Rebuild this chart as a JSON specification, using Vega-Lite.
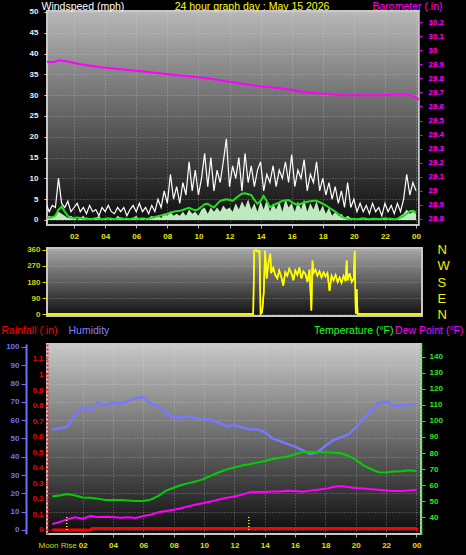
{
"$schema": "https://vega.github.io/schema/vega-lite/v6.json",
"background": "#000000",
"padding": {"left": 0, "top": 0, "right": 4, "bottom": 9},
"spacing": 1,
"datasets": {
"wind": [
{"h":0,"g":3,"w":1,"a":0.5},{"h":0.2,"g":4,"w":0.5,"a":0.7},{"h":0.4,"g":2,"w":1,"a":0.5},{"h":0.6,"g":3.5,"w":0.5,"a":0.7},{"h":0.8,"g":3,"w":1,"a":1},
{"h":1,"g":10,"w":2,"a":2.5},{"h":1.2,"g":4,"w":1.5,"a":3.2},{"h":1.4,"g":3,"w":1,"a":2},{"h":1.6,"g":4.5,"w":0.5,"a":1},{"h":1.8,"g":2,"w":1,"a":0.5},
{"h":2,"g":3,"w":0.5,"a":0.4},{"h":2.2,"g":4,"w":0,"a":0.6},{"h":2.4,"g":2,"w":0.5,"a":0.5},{"h":2.6,"g":3,"w":1,"a":0.3},{"h":2.8,"g":1.5,"w":0,"a":0.4},
{"h":3,"g":3.5,"w":0.5,"a":0.2},{"h":3.2,"g":2,"w":0,"a":0.3},{"h":3.4,"g":2.5,"w":0.5,"a":0.4},{"h":3.6,"g":1,"w":1,"a":0.3},{"h":3.8,"g":3,"w":0,"a":0.2},
{"h":4,"g":2,"w":0.5,"a":0.3},{"h":4.2,"g":3.5,"w":0,"a":0.4},{"h":4.4,"g":2,"w":0.5,"a":0.3},{"h":4.6,"g":1.5,"w":0,"a":0.2},{"h":4.8,"g":3,"w":1,"a":0.3},
{"h":5,"g":2,"w":0.5,"a":0.4},{"h":5.2,"g":3,"w":0,"a":0.3},{"h":5.4,"g":1,"w":0.5,"a":0.3},{"h":5.6,"g":2.5,"w":0,"a":0.2},{"h":5.8,"g":3.5,"w":0.5,"a":0.4},
{"h":6,"g":2,"w":1,"a":0.3},{"h":6.2,"g":4,"w":0,"a":0.3},{"h":6.4,"g":2,"w":0.5,"a":0.4},{"h":6.6,"g":3,"w":0,"a":0.3},{"h":6.8,"g":1.5,"w":0.5,"a":0.3},
{"h":7,"g":3.5,"w":1,"a":0.5},{"h":7.2,"g":2,"w":0.5,"a":0.7},{"h":7.4,"g":5,"w":1,"a":0.9},{"h":7.6,"g":3,"w":0.5,"a":1.1},{"h":7.8,"g":7,"w":1.5,"a":1.3},
{"h":8,"g":4,"w":1,"a":1.5},{"h":8.2,"g":11,"w":2,"a":1.8},{"h":8.4,"g":5,"w":1,"a":2},{"h":8.6,"g":8,"w":1.5,"a":2.1},{"h":8.8,"g":4,"w":1,"a":2.2},
{"h":9,"g":9,"w":2,"a":2.4},{"h":9.2,"g":6,"w":1,"a":2.7},{"h":9.4,"g":14,"w":2.5,"a":2.9},{"h":9.6,"g":7,"w":1.5,"a":2.6},{"h":9.8,"g":12,"w":2,"a":2.3},
{"h":10,"g":6,"w":1,"a":2.6},{"h":10.2,"g":10,"w":2.5,"a":3.2},{"h":10.4,"g":16,"w":3,"a":3.8},{"h":10.6,"g":8,"w":1.5,"a":3.9},{"h":10.8,"g":15,"w":3,"a":3.4},
{"h":11,"g":7,"w":2,"a":3},{"h":11.2,"g":12,"w":3,"a":3.8},{"h":11.4,"g":9,"w":2,"a":4.6},{"h":11.6,"g":14,"w":3.5,"a":4.8},{"h":11.8,"g":19.5,"w":2.5,"a":5},
{"h":12,"g":8,"w":3,"a":4.8},{"h":12.2,"g":13,"w":2,"a":4.6},{"h":12.4,"g":10,"w":4,"a":5.2},{"h":12.6,"g":15,"w":2.5,"a":5.8},{"h":12.8,"g":7,"w":4.5,"a":6.3},
{"h":13,"g":16,"w":3,"a":6.4},{"h":13.2,"g":9,"w":5,"a":6.2},{"h":13.4,"g":13,"w":2.5,"a":6},{"h":13.6,"g":8,"w":4,"a":4.8},{"h":13.8,"g":12,"w":2,"a":3.9},
{"h":14,"g":14,"w":4.5,"a":4.6},{"h":14.2,"g":7,"w":2.5,"a":5.8},{"h":14.4,"g":11,"w":5,"a":4.5},{"h":14.6,"g":9,"w":2,"a":3.1},{"h":14.8,"g":13,"w":4,"a":3.5},
{"h":15,"g":8,"w":2.5,"a":3.9},{"h":15.2,"g":12,"w":4.5,"a":4.2},{"h":15.4,"g":10,"w":2,"a":4.6},{"h":15.6,"g":14,"w":5,"a":4.7},{"h":15.8,"g":9,"w":3,"a":4.8},
{"h":16,"g":15.7,"w":4,"a":4.3},{"h":16.2,"g":8,"w":2,"a":3.9},{"h":16.4,"g":12,"w":4.5,"a":3.6},{"h":16.6,"g":10,"w":2.5,"a":3.9},{"h":16.8,"g":14.5,"w":5,"a":4.2},
{"h":17,"g":7,"w":2,"a":4.4},{"h":17.2,"g":11,"w":4,"a":4.5},{"h":17.4,"g":9,"w":2.5,"a":4.6},{"h":17.6,"g":14,"w":4.5,"a":4.6},{"h":17.8,"g":7,"w":2,"a":4.3},
{"h":18,"g":10,"w":3.5,"a":3.9},{"h":18.2,"g":6,"w":1.5,"a":3.5},{"h":18.4,"g":9,"w":3,"a":3},{"h":18.6,"g":5,"w":1,"a":2.5},{"h":18.8,"g":8,"w":2,"a":2},
{"h":19,"g":4,"w":1,"a":1.4},{"h":19.2,"g":7,"w":1.5,"a":0.8},{"h":19.4,"g":3,"w":0.5,"a":0.5},{"h":19.6,"g":9,"w":1,"a":0.3},{"h":19.8,"g":3,"w":0.5,"a":0.2},
{"h":20,"g":5,"w":0.5,"a":0.3},{"h":20.2,"g":2,"w":0,"a":0.2},{"h":20.4,"g":4,"w":0.5,"a":0.3},{"h":20.6,"g":2,"w":0,"a":0.4},{"h":20.8,"g":3.5,"w":0.5,"a":0.3},
{"h":21,"g":1.5,"w":0,"a":0.2},{"h":21.2,"g":4,"w":0.5,"a":0.3},{"h":21.4,"g":2,"w":0,"a":0.3},{"h":21.6,"g":3,"w":0.5,"a":0.2},{"h":21.8,"g":1,"w":0,"a":0.3},
{"h":22,"g":4,"w":0.5,"a":0.4},{"h":22.2,"g":2,"w":0,"a":0.3},{"h":22.4,"g":3.5,"w":0.5,"a":0.3},{"h":22.6,"g":1.5,"w":0,"a":0.2},{"h":22.8,"g":4,"w":0.5,"a":0.3},
{"h":23,"g":2,"w":1,"a":0.6},{"h":23.2,"g":5,"w":1.5,"a":1},{"h":23.4,"g":11,"w":2.5,"a":1.5},{"h":23.6,"g":6,"w":1.5,"a":2.1},{"h":23.8,"g":9,"w":2,"a":2.2},
{"h":24,"g":7,"w":1.5,"a":1.8}
],
"baro": [
{"h":0,"p":29.921},{"h":0.6,"p":29.914},{"h":1.1,"p":29.929},{"h":1.5,"p":29.921},{"h":2.4,"p":29.9},{"h":3.7,"p":29.879},{"h":5,"p":29.864},{"h":6.3,"p":29.85},{"h":7.5,"p":29.836},{"h":8.8,"p":29.821},{"h":10.1,"p":29.807},{"h":11.4,"p":29.786},{"h":12.7,"p":29.764},{"h":14,"p":29.743},{"h":15.3,"p":29.729},{"h":16.6,"p":29.707},{"h":17.9,"p":29.693},{"h":19.2,"p":29.679},{"h":20.5,"p":29.679},{"h":21.7,"p":29.679},{"h":23,"p":29.686},{"h":23.7,"p":29.679},{"h":24.2,"p":29.65}
],
"dir": [
{"h":0,"d":0},{"h":13.2,"d":0},{"h":13.26,"d":355},{"h":13.38,"d":360},{"h":13.51,"d":350},{"h":13.6,"d":355},{"h":13.67,"d":0},{"h":13.77,"d":10},{"h":13.87,"d":120},{"h":13.96,"d":355},{"h":14.06,"d":200},{"h":14.16,"d":280},{"h":14.29,"d":340},{"h":14.35,"d":230},{"h":14.48,"d":260},{"h":14.61,"d":220},{"h":14.74,"d":200},{"h":14.86,"d":245},{"h":14.99,"d":210},{"h":15.12,"d":160},{"h":15.25,"d":235},{"h":15.38,"d":215},{"h":15.51,"d":255},{"h":15.64,"d":230},{"h":15.77,"d":190},{"h":15.89,"d":245},{"h":16.02,"d":220},{"h":16.15,"d":260},{"h":16.28,"d":200},{"h":16.41,"d":240},{"h":16.54,"d":225},{"h":16.67,"d":180},{"h":16.8,"d":250},{"h":16.92,"d":20},{"h":16.99,"d":300},{"h":17.05,"d":230},{"h":17.18,"d":250},{"h":17.31,"d":215},{"h":17.44,"d":240},{"h":17.57,"d":205},{"h":17.7,"d":235},{"h":17.82,"d":210},{"h":17.95,"d":230},{"h":18.08,"d":130},{"h":18.21,"d":215},{"h":18.34,"d":190},{"h":18.47,"d":220},{"h":18.6,"d":180},{"h":18.73,"d":205},{"h":18.85,"d":175},{"h":18.98,"d":215},{"h":19.11,"d":185},{"h":19.18,"d":300},{"h":19.24,"d":190},{"h":19.37,"d":230},{"h":19.5,"d":180},{"h":19.63,"d":200},{"h":19.69,"d":355},{"h":19.76,"d":0},{"h":19.82,"d":140},{"h":19.88,"d":0},{"h":24,"d":0}
],
"th": [
{"h":0,"t":53,"hu":55,"dp":35.6},{"h":0.5,"t":53.5,"hu":55.5,"dp":37},{"h":1,"t":54.4,"hu":56.5,"dp":38.7},{"h":1.5,"t":53.5,"hu":63,"dp":39.8},{"h":2,"t":52.2,"hu":67,"dp":38.9},{"h":2.5,"t":52,"hu":65,"dp":40.6},{"h":3,"t":51.5,"hu":69.5,"dp":40},{"h":3.5,"t":50.6,"hu":68,"dp":40.2},{"h":4,"t":50.6,"hu":69.5,"dp":40},{"h":4.5,"t":50.6,"hu":69,"dp":39.6},{"h":5,"t":50.3,"hu":70.5,"dp":39.8},{"h":5.5,"t":50,"hu":72,"dp":39.4},{"h":6,"t":50,"hu":72.5,"dp":40.6},{"h":6.5,"t":51,"hu":69,"dp":41.5},{"h":7,"t":53.2,"hu":67.5,"dp":43},{"h":7.5,"t":56.5,"hu":63.5,"dp":43.8},{"h":8,"t":58.3,"hu":61.5,"dp":44.6},{"h":8.5,"t":60,"hu":61.5,"dp":45.5},{"h":9,"t":61.2,"hu":62,"dp":46.8},{"h":9.5,"t":62.3,"hu":61,"dp":47.8},{"h":10,"t":63.8,"hu":60.6,"dp":48.8},{"h":10.5,"t":66,"hu":60,"dp":49.8},{"h":11,"t":68,"hu":58.5,"dp":51},{"h":11.5,"t":69.8,"hu":56.5,"dp":52},{"h":12,"t":71,"hu":57.5,"dp":52.8},{"h":12.5,"t":72.2,"hu":56,"dp":54},{"h":13,"t":73,"hu":55,"dp":55.5},{"h":13.5,"t":74,"hu":55,"dp":55.6},{"h":14,"t":75,"hu":53.5,"dp":55.6},{"h":14.5,"t":76.3,"hu":50,"dp":56},{"h":15,"t":77,"hu":48.5,"dp":56},{"h":15.5,"t":77.8,"hu":47,"dp":56.4},{"h":16,"t":79.2,"hu":45.5,"dp":56.3},{"h":16.5,"t":80.6,"hu":43.5,"dp":55.8},{"h":17,"t":80.8,"hu":41.5,"dp":56.5},{"h":17.5,"t":80.7,"hu":42.6,"dp":57},{"h":18,"t":80.5,"hu":46,"dp":57.6},{"h":18.5,"t":80.2,"hu":49,"dp":58.8},{"h":19,"t":79.8,"hu":50.5,"dp":59.4},{"h":19.5,"t":78.3,"hu":52,"dp":58.8},{"h":20,"t":75.8,"hu":56,"dp":58.1},{"h":20.5,"t":72.3,"hu":60.5,"dp":57.8},{"h":21,"t":70,"hu":65,"dp":57.4},{"h":21.5,"t":68,"hu":69.5,"dp":57},{"h":22,"t":67.8,"hu":70,"dp":56.6},{"h":22.5,"t":68.5,"hu":67.8,"dp":56.2},{"h":23,"t":68.6,"hu":68,"dp":56.3},{"h":23.5,"t":69.2,"hu":68.5,"dp":56.6},{"h":24,"t":68.7,"hu":68.5,"dp":57}
],
"rain": [{"h":0,"r":0},{"h":2.5,"r":0},{"h":2.6,"r":0.009},{"h":23.95,"r":0.009},{"h":24.1,"r":0}],
"ev": [{"h":0.95},{"h":12.95}]
},
"config": {
  "axis": {"labelFont": "Liberation Sans", "titleFont": "Liberation Sans", "labelFontSize": 8, "labelFontWeight": "bold", "titleFontSize": 10.5, "titleFontWeight": "normal", "labelFlush": false, "labelOverlap": false, "labelBound": false, "titleAngle": 0, "titleAlign": "left", "titleBaseline": "alphabetic", "gridDash": [1, 2], "gridColor": "#e8e8e8", "gridOpacity": 0.4}
},
"vconcat": [
{
  "width": 372, "height": 214,
  "view": {"fill": {"gradient": "linear", "x1": 0, "y1": 0, "x2": 0, "y2": 1, "stops": [{"offset": 0, "color": "#b8b8b8"}, {"offset": 1, "color": "#0a0a0a"}]}, "stroke": "#c8c8c8", "strokeWidth": 2},
  "encoding": {"x": {"field": "h", "type": "quantitative", "scale": {"domain": [0.26, 24.19], "nice": false, "zero": false},
     "axis": {"values": [2,4,6,8,10,12,14,16,18,20,22,24], "labelExpr": "datum.value == 24 ? '00' : (datum.value < 10 ? '0' + datum.value : '' + datum.value)", "labelColor": "#e8e800", "tickColor": "#bbbbbb", "tickSize": 3, "labelPadding": 4, "domain": false, "grid": true, "title": "24 hour graph day : May 15 2026", "titleColor": "#ffff00", "titleAlign": "center", "titleX": 204.5, "titleY": -216}}},
  "layer": [
    {
      "data": {"name": "wind"},
      "encoding": {"y": {"field": "g", "type": "quantitative", "scale": {"domain": [-1.21, 50.24], "nice": false, "zero": false},
           "axis": {"values": [0,5,10,15,20,25,30,35,40,45,50], "labelColor": "#e6eeff", "tickColor": "#dddddd", "tickSize": 3, "labelPadding": 6, "domain": false, "grid": true, "title": "Windspeed (mph)", "titleColor": "#ffffff", "titleX": -6, "titleY": -2}}},
      "layer": [
        {"mark": {"type": "line", "color": "#ffffff", "strokeWidth": 1.2, "clip": true}},
        {"mark": {"type": "area", "color": "#bfeabf", "opacity": 1, "clip": true},
         "encoding": {"y": {"field": "w", "type": "quantitative"}}},
        {"mark": {"type": "line", "color": "#22dd22", "strokeWidth": 2, "clip": true},
         "encoding": {"y": {"field": "a", "type": "quantitative"}}}
      ]
    },
    {
      "data": {"name": "baro"},
      "mark": {"type": "line", "color": "#ff00ff", "strokeWidth": 2, "clip": true},
      "encoding": {"y": {"field": "p", "type": "quantitative", "scale": {"domain": [28.757, 30.279], "nice": false, "zero": false},
        "axis": {"orient": "right", "values": [28.8,28.9,29,29.1,29.2,29.3,29.4,29.5,29.6,29.7,29.8,29.9,30,30.1,30.2], "format": ".3~g", "labelColor": "#ff00ff", "tickColor": "#ff00ff", "tickSize": 3, "labelPadding": 6, "domain": true, "domainColor": "#ff00ff", "domainDash": [1, 1], "grid": false, "title": "Barometer (.in)", "titleColor": "#ff00ff", "titleX": -47, "titleY": -2}}}
    }
  ],
  "resolve": {"scale": {"y": "independent"}}
},
{
  "width": 375, "height": 68,
  "view": {"fill": {"gradient": "linear", "x1": 0, "y1": 0, "x2": 0, "y2": 1, "stops": [{"offset": 0, "color": "#a8a8a8"}, {"offset": 1, "color": "#101010"}]}, "stroke": "#c8c8c8", "strokeWidth": 2},
  "data": {"name": "dir"},
  "encoding": {"x": {"field": "h", "type": "quantitative", "scale": {"domain": [0, 24], "nice": false, "zero": false}, "axis": null}},
  "layer": [
    {"mark": {"type": "line", "color": "#ffff00", "strokeWidth": 1.5},
     "encoding": {"y": {"field": "d", "type": "quantitative", "scale": {"domain": [-11, 371], "nice": false, "zero": false},
       "axis": {"orient": "left", "values": [0, 90, 180, 270, 360], "labelColor": "#d4d400", "tickColor": "#d4d400", "tickSize": 5, "labelPadding": 2, "domain": false, "grid": true, "title": null}}}},
    {"mark": {"type": "line", "color": "#ffff00", "strokeWidth": 1.5},
     "encoding": {"y": {"field": "d", "type": "quantitative", "scale": {"domain": [-11, 371], "nice": false, "zero": false},
       "axis": {"orient": "right", "values": [0, 90, 180, 270, 360], "labelExpr": "datum.value == 270 ? 'W' : datum.value == 180 ? 'S' : datum.value == 90 ? 'E' : 'N'", "labelColor": "#f0f000", "labelFontSize": 13, "labelFontWeight": "normal", "ticks": false, "domain": false, "grid": false, "labelPadding": 15, "title": null}}}}
  ],
  "resolve": {"scale": {"y": "independent"}}
},
{
  "width": 374, "height": 190,
  "view": {"fill": {"gradient": "linear", "x1": 0, "y1": 0, "x2": 0, "y2": 1, "stops": [{"offset": 0, "color": "#c8c8c8"}, {"offset": 1, "color": "#0c0c0c"}]}, "stroke": "#c8c8c8", "strokeWidth": 2},
  "encoding": {"x": {"field": "h", "type": "quantitative", "scale": {"domain": [-0.35, 24.3], "nice": false, "zero": false},
     "axis": {"values": [2,4,6,8,10,12,14,16,18,20,22,24], "labelExpr": "datum.value == 24 ? '00' : (datum.value < 10 ? '0' + datum.value : '' + datum.value)", "labelColor": "#e0e000", "tickColor": "#aaaaaa", "tickSize": 3, "labelPadding": 4, "domain": false, "grid": true, "title": "Moon Rise", "titleColor": "#d8d800", "titleFontSize": 8, "titleFontWeight": "normal", "titleX": -9, "titleY": 13.5}}},
  "layer": [
    {"data": {"name": "th"}, "mark": {"type": "line", "color": "#7878ff", "strokeWidth": 2.5},
     "encoding": {"y": {"field": "hu", "type": "quantitative", "scale": {"domain": [-2.2, 101.6], "nice": false, "zero": false},
       "axis": {"orient": "left", "offset": 21, "values": [0,10,20,30,40,50,60,70,80,90,100], "labelColor": "#7070ff", "tickColor": "#7070ff", "tickSize": 5, "labelPadding": 2, "domain": true, "domainColor": "#7070ff", "domainWidth": 2, "grid": true, "title": "Humidity", "titleColor": "#8080ff", "titleX": 42, "titleY": -10.5}}}},
    {"data": {"name": "th"}, "mark": {"type": "line", "color": "#00d000", "strokeWidth": 2},
     "encoding": {"y": {"field": "t", "type": "quantitative", "scale": {"domain": [29.4, 148.1], "nice": false, "zero": false},
       "axis": {"orient": "right", "values": [40,50,60,70,80,90,100,110,120,130,140], "labelColor": "#22ee22", "tickColor": "#22ee22", "tickSize": 4, "labelPadding": 4, "domain": true, "domainColor": "#22ee22", "domainDash": [2, 2], "domainWidth": 2, "grid": false, "title": "Temperature (°F)", "titleColor": "#22ff22", "titleAlign": "right", "titleX": -28, "titleY": -10.5}}}},
    {"data": {"name": "th"}, "mark": {"type": "line", "color": "#ff00ff", "strokeWidth": 2},
     "encoding": {"y": {"field": "dp", "type": "quantitative", "scale": {"domain": [29.4, 148.1], "nice": false, "zero": false},
       "axis": {"orient": "right", "labels": false, "ticks": false, "domain": false, "grid": false, "title": "Dew Point (°F)", "titleColor": "#ff00ff", "titleAlign": "right", "titleX": 42, "titleY": -10.5}}}},
    {"data": {"name": "rain"}, "mark": {"type": "line", "color": "#ff0000", "strokeWidth": 3},
     "encoding": {"y": {"field": "r", "type": "quantitative", "scale": {"domain": [-0.026, 1.196], "nice": false, "zero": false},
       "axis": {"orient": "left", "values": [0,0.1,0.2,0.3,0.4,0.5,0.6,0.7,0.8,0.9,1,1.1,1.2], "format": "~g", "labelColor": "#ee0000", "tickColor": "#ee0000", "tickSize": 2, "labelPadding": 2, "domain": true, "domainColor": "#ff2020", "domainDash": [2, 2], "domainWidth": 2, "grid": false, "title": "Rainfall (.in)", "titleColor": "#ff0000", "titleX": -46, "titleY": -10.5}}}},
    {"data": {"name": "ev"}, "mark": {"type": "rule", "color": "#ffff00", "strokeDash": [1, 2], "strokeWidth": 1.5},
     "encoding": {"y": {"datum": 0, "type": "quantitative", "scale": {"domain": [-2.2, 101.6], "nice": false, "zero": false}, "axis": null}, "y2": {"datum": 8}}}
  ],
  "resolve": {"scale": {"y": "independent"}}
}
]
}
